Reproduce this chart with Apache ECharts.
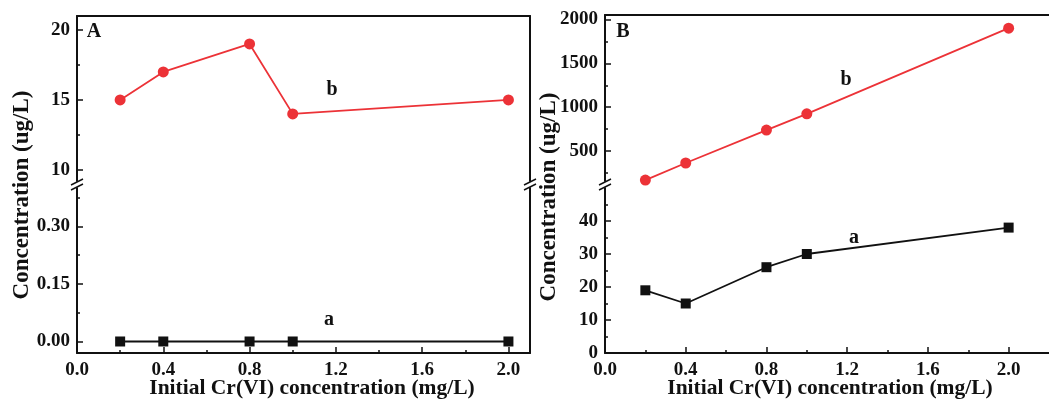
<!DOCTYPE html>
<html>
<head>
<meta charset="utf-8">
<script src="https://cdn.jsdelivr.net/npm/echarts@6.0.0/dist/echarts.min.js"></script>
<style>
  html, body { margin: 0; padding: 0; background: #fff; }
  #main { width: 1049px; height: 401px; }
</style>
</head>
<body>
<div id="main"></div>
<script>
// data
var xValues = [0.2, 0.4, 0.8, 1.0, 2.0];
var panelA_b = [15, 17, 19, 14, 15];
var panelA_a = [0, 0, 0, 0, 0];
var panelB_b = [170, 365, 740, 925, 1900];
var panelB_a = [19, 15, 26, 30, 38];

// tick labels
var xTicks = [0, 0.4, 0.8, 1.2, 1.6, 2.0];
var xMinor = [0.2, 0.6, 1.0, 1.4, 1.8];
var aTopTicks = [10, 15, 20];
var aTopMinor = [12.5, 17.5];
var aBotTicks = [0, 0.15, 0.30];
var aBotMinor = [0.075, 0.225, 0.375];
var bTopTicks = [500, 1000, 1500, 2000];
var bTopMinor = [250, 750, 1250, 1750];
var bBotTicks = [0, 10, 20, 30, 40];
var bBotMinor = [5, 15, 25, 35, 45];

var xTitle = 'Initial Cr(VI) concentration (mg/L)';
var yTitle = 'Concentration (ug/L)';

var FONT = '"Liberation Serif", "Times New Roman", serif';
var RED = '#ec3237';
var INK = '#111';

var chart = echarts.init(document.getElementById('main'), null, { renderer: 'canvas' });

// 0: A top, 1: A bottom, 2: B top, 3: B bottom
var rects = [
  { left: 77, top: 16, width: 453, height: 165 },
  { left: 77, top: 188, width: 453, height: 165 },
  { left: 605, top: 15, width: 452, height: 166 },
  { left: 605, top: 188, width: 452, height: 165 }
];
var xRange = [[0, 2.1], [0, 2.1], [0, 2.2], [0, 2.2]];
var yRange = [[9.2, 21], [-0.03, 0.40], [160, 2050], [0, 50]];
var yMajor = [aTopTicks, aBotTicks, bTopTicks, bBotTicks];
var yMinor = [aTopMinor, aBotMinor, bTopMinor, bBotMinor];
var yFmt = [
  function (v) { return String(v); },
  function (v) { return v.toFixed(2); },
  function (v) { return String(v); },
  function (v) { return String(v); }
];

var labelStyle = { fontFamily: FONT, fontWeight: 'bold', fontSize: 19, color: INK };
var axisLineStyle = { color: INK, width: 2 };

var grids = [];
var xAxes = [];
var yAxes = [];

// main grids + a copy of each for the short minor ticks
for (var g = 0; g < 8; g++) {
  var r = rects[g % 4];
  grids.push({ left: r.left, top: r.top, width: r.width, height: r.height, containLabel: false });
}

for (var i = 0; i < 4; i++) {
  var bottom = (i % 2 === 1);
  xAxes.push({
    type: 'value', gridIndex: i, min: xRange[i][0], max: xRange[i][1],
    position: bottom ? 'bottom' : 'top',
    axisLine: { show: true, onZero: false, lineStyle: axisLineStyle },
    axisTick: bottom ? { show: true, inside: true, length: 6, customValues: xTicks, lineStyle: { color: INK, width: 1.5 } } : { show: false },
    axisLabel: bottom ? Object.assign({ show: true, customValues: xTicks, margin: 8, formatter: function (v) { return v.toFixed(1); } }, labelStyle) : { show: false },
    splitLine: { show: false }
  });
  yAxes.push({
    type: 'value', gridIndex: i, min: yRange[i][0], max: yRange[i][1], position: 'left',
    axisLine: { show: true, onZero: false, lineStyle: axisLineStyle },
    axisTick: { show: true, inside: true, length: 6, customValues: yMajor[i], lineStyle: { color: INK, width: 1.5 } },
    axisLabel: Object.assign({ show: true, customValues: yMajor[i], margin: 7, formatter: yFmt[i] }, labelStyle),
    splitLine: { show: false }
  });
}
// right border lines (panel B's right edge is cut off in the figure)
for (var i = 0; i < 4; i++) {
  yAxes.push({
    type: 'value', gridIndex: i, min: yRange[i][0], max: yRange[i][1], position: 'right',
    axisLine: { show: i < 2, onZero: false, lineStyle: axisLineStyle },
    axisTick: { show: false }, axisLabel: { show: false }, splitLine: { show: false }
  });
}
// minor ticks on the copy grids
for (var i = 0; i < 4; i++) {
  var bottom = (i % 2 === 1);
  xAxes.push({
    type: 'value', gridIndex: i + 4, min: xRange[i][0], max: xRange[i][1], position: 'bottom',
    axisLine: { show: false, onZero: false },
    axisTick: bottom ? { show: true, inside: true, length: 3, customValues: xMinor, lineStyle: { color: INK, width: 1.5 } } : { show: false },
    axisLabel: { show: false }, splitLine: { show: false }
  });
  yAxes.push({
    type: 'value', gridIndex: i + 4, min: yRange[i][0], max: yRange[i][1], position: 'left',
    axisLine: { show: false, onZero: false },
    axisTick: { show: true, inside: true, length: 3, customValues: yMinor[i], lineStyle: { color: INK, width: 1.5 } },
    axisLabel: { show: false }, splitLine: { show: false }
  });
}

function pairs(ys) {
  return xValues.map(function (x, k) { return [x, ys[k]]; });
}

function lineSeries(idx, ys, color, symbol, size) {
  return {
    type: 'line', xAxisIndex: idx, yAxisIndex: idx, data: pairs(ys),
    symbol: symbol, symbolSize: size, clip: false,
    lineStyle: { color: color, width: 1.8 },
    itemStyle: { color: color },
    animation: false
  };
}

function breakMark(x, y) {
  return [
    { type: 'line', shape: { x1: x - 6, y1: y + 1, x2: x + 6, y2: y - 5 }, style: { stroke: INK, lineWidth: 1.5 } },
    { type: 'line', shape: { x1: x - 6, y1: y + 6, x2: x + 6, y2: y }, style: { stroke: INK, lineWidth: 1.5 } }
  ];
}

function txt(x, y, s, size, rot) {
  return {
    type: 'text', x: x, y: y, rotation: rot || 0,
    style: { text: s, fontFamily: FONT, fontWeight: 'bold', fontSize: size, fill: INK, align: 'center', verticalAlign: 'middle' }
  };
}

var graphics = []
  .concat(breakMark(77, 184))
  .concat(breakMark(530, 184))
  .concat(breakMark(605, 184))
  .concat([
    txt(94, 32, 'A', 20),
    txt(623, 32, 'B', 20),
    txt(332, 90, 'b', 20),
    txt(329, 320, 'a', 20),
    txt(846, 80, 'b', 20),
    txt(854, 238, 'a', 20),
    txt(312, 388, xTitle, 21.5),
    txt(830, 388, xTitle, 21.5),
    txt(22, 195, yTitle, 23, Math.PI / 2),
    txt(549, 197, yTitle, 23, Math.PI / 2)
  ]);

var option = {
  backgroundColor: '#fff',
  animation: false,
  grid: grids,
  xAxis: xAxes,
  yAxis: yAxes,
  series: [
    lineSeries(0, panelA_b, RED, 'circle', 11),
    lineSeries(1, panelA_a, INK, 'rect', 10),
    lineSeries(2, panelB_b, RED, 'circle', 11),
    lineSeries(3, panelB_a, INK, 'rect', 10)
  ],
  graphic: graphics
};

chart.setOption(option);
</script>
</body>
</html>
